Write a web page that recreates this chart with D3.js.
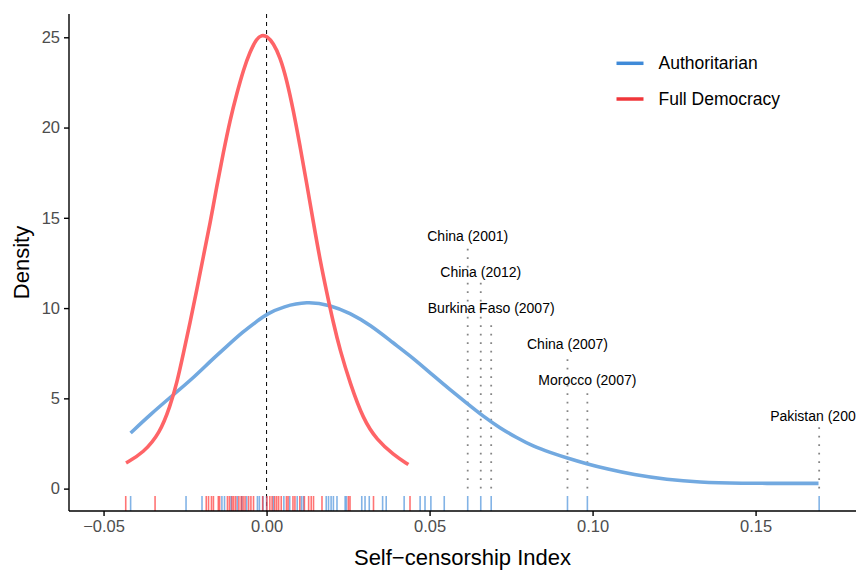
<!DOCTYPE html>
<html>
<head>
<meta charset="utf-8">
<script src="https://cdn.jsdelivr.net/npm/d3@7"></script>
<style>
  body { margin: 0; background: #fff; }
  text { font-family: "Liberation Sans", Arial, sans-serif; }
</style>
</head>
<body>
<div id="chart"></div>
<script>
// Density curves (x = index value, y = density)
const authCurveX = [-0.0417, -0.0357, -0.0286, -0.0225, -0.0173, -0.0122, -0.0071, -0.0030, 0.0001, 0.0052, 0.0123, 0.0195, 0.0256, 0.0317, 0.0389, 0.0450, 0.0512, 0.0563, 0.0614, 0.0665, 0.0716, 0.0767, 0.0818, 0.0870, 0.0921, 0.0982, 0.1044, 0.1125, 0.1228, 0.1330, 0.1432, 0.1693];
const authCurveY = [3.08, 4.10, 5.20, 6.13, 7.05, 7.88, 8.71, 9.26, 9.68, 10.09, 10.37, 10.18, 9.72, 9.08, 8.06, 7.23, 6.25, 5.48, 4.74, 4.00, 3.36, 2.82, 2.34, 2.00, 1.70, 1.37, 1.09, 0.77, 0.50, 0.35, 0.29, 0.29];

const demoCurveX = [-0.0431, -0.0378, -0.0327, -0.0296, -0.0275, -0.0255, -0.0235, -0.0214, -0.0194, -0.0173, -0.0153, -0.0133, -0.0112, -0.0091, -0.0071, -0.0051, -0.0030, -0.0015, 0.0001, 0.0021, 0.0041, 0.0062, 0.0082, 0.0103, 0.0123, 0.0144, 0.0164, 0.0185, 0.0205, 0.0225, 0.0256, 0.0297, 0.0338, 0.0389, 0.0435];
const demoCurveY = [1.42, 1.98, 3.08, 4.56, 5.85, 7.51, 9.17, 11.01, 12.86, 14.70, 16.73, 18.58, 20.42, 21.90, 23.19, 24.20, 24.94, 25.12, 25.07, 24.67, 23.92, 22.63, 20.97, 18.94, 16.92, 14.70, 12.67, 10.83, 9.17, 7.69, 5.85, 3.82, 2.71, 1.88, 1.33];

// Rug values (one per country-year)
const authRug = [-0.0417, -0.0247, -0.0198, -0.0137, -0.0129, -0.0109, -0.0090, -0.0076, -0.0061, -0.0028, -0.0022, -0.0011, 0.0000, 0.0021, 0.0053, 0.0071, 0.0094, 0.0107, 0.0113, 0.0183, 0.0190, 0.0198, 0.0205, 0.0216, 0.0241, 0.0245, 0.0292, 0.0302, 0.0315, 0.0356, 0.0367, 0.0422, 0.0471, 0.0486, 0.0504, 0.0545, 0.0617, 0.0657, 0.0689, 0.0923, 0.0984, 0.1695];
const demoRug = [-0.0432, -0.0342, -0.0185, -0.0178, -0.0169, -0.0163, -0.0148, -0.0144, -0.0120, -0.0114, -0.0106, -0.0101, -0.0095, -0.0085, -0.0078, -0.0072, -0.0066, -0.0055, -0.0048, -0.0040, -0.0012, 0.0001, 0.0010, 0.0017, 0.0025, 0.0031, 0.0037, 0.0045, 0.0061, 0.0066, 0.0081, 0.0087, 0.0102, 0.0116, 0.0129, 0.0137, 0.0144, 0.0170, 0.0251, 0.0256, 0.0328, 0.0440];

// Labelled outliers
const outlierNames = ["China (2001)", "China (2012)", "Burkina Faso (2007)", "China (2007)", "Morocco (2007)", "Pakistan (2007)"];
const outlierX = [0.0617, 0.0657, 0.0689, 0.0923, 0.0984, 0.1695];
const outlierLabelY = [14, 12, 10, 8, 6, 4];

const groups = ["Authoritarian", "Full Democracy"];
const xTicks = [-0.05, 0, 0.05, 0.10, 0.15];
const yTicks = [0, 5, 10, 15, 20, 25];

const totalWidth = 856, totalHeight = 572;
const margin = {top: 14, right: 0, bottom: 61, left: 69},
    width = totalWidth - margin.left - margin.right,
    height = totalHeight - margin.top - margin.bottom;

const svg = d3.select("#chart")
  .append("svg")
    .attr("width", totalWidth)
    .attr("height", totalHeight)
  .append("g")
    .attr("transform", "translate(" + margin.left + "," + margin.top + ")");

const x = d3.scaleLinear()
  .domain([-0.0606, 0.1808])
  .range([0, width]);

const y = d3.scaleLinear()
  .domain([-1.24, 26.29])
  .range([height, 0]);

const lineBlue = "#72a9e0", lineRed = "#fe6467";

// dashed reference line at zero
svg.append("line")
  .attr("x1", x(0)).attr("x2", x(0))
  .attr("y1", 0).attr("y2", height)
  .attr("stroke", "#000")
  .attr("stroke-width", 1)
  .attr("stroke-dasharray", "4,4");

// dotted segments for the outliers
svg.selectAll(".seg")
  .data(outlierX)
  .enter()
  .append("line")
    .attr("class", "seg")
    .attr("x1", d => x(d)).attr("x2", d => x(d))
    .attr("y1", y(0))
    .attr("y2", (d, i) => y(outlierLabelY[i] - 0.6))
    .attr("stroke", "#858585")
    .attr("stroke-width", 1.8)
    .attr("stroke-dasharray", "1.8,6.7");

svg.selectAll(".lab")
  .data(outlierNames)
  .enter()
  .append("text")
    .attr("class", "lab")
    .attr("x", (d, i) => x(outlierX[i]))
    .attr("y", (d, i) => y(outlierLabelY[i]))
    .attr("dy", "0.35em")
    .attr("text-anchor", "middle")
    .style("font-size", "14px")
    .style("fill", "#000")
    .text(d => d);

// density lines
const line = d3.line()
  .x(d => x(d[0]))
  .y(d => y(d[1]))
  .curve(d3.curveBasis);

svg.append("path")
  .datum(authCurveX.map((v, i) => [v, authCurveY[i]]))
  .attr("d", line)
  .attr("fill", "none")
  .attr("stroke", lineBlue)
  .attr("stroke-width", 3.6);

svg.append("path")
  .datum(demoCurveX.map((v, i) => [v, demoCurveY[i]]))
  .attr("d", line)
  .attr("fill", "none")
  .attr("stroke", lineRed)
  .attr("stroke-width", 3.6);

// rugs
const rugLen = 15;
svg.selectAll(".rugA")
  .data(authRug)
  .enter()
  .append("line")
    .attr("x1", d => x(d)).attr("x2", d => x(d))
    .attr("y1", height).attr("y2", height - rugLen)
    .attr("stroke", "#3f8ad8")
    .attr("stroke-opacity", 0.65)
    .attr("stroke-width", 1.6);

svg.selectAll(".rugD")
  .data(demoRug)
  .enter()
  .append("line")
    .attr("x1", d => x(d)).attr("x2", d => x(d))
    .attr("y1", height).attr("y2", height - rugLen)
    .attr("stroke", "#ff2a2a")
    .attr("stroke-opacity", 0.65)
    .attr("stroke-width", 1.6);

// axes
const xAxis = svg.append("g")
  .attr("transform", "translate(0," + height + ")")
  .call(d3.axisBottom(x).tickValues(xTicks).tickSize(5).tickPadding(4)
    .tickFormat(d => d3.format(".2f")(d).replace("-", "\u2212")));

const yAxis = svg.append("g")
  .call(d3.axisLeft(y).tickValues(yTicks).tickSize(5).tickPadding(4));

[xAxis, yAxis].forEach(g => {
  g.select(".domain").attr("stroke", "#000").attr("stroke-width", 1.4);
  g.selectAll(".tick line").attr("stroke", "#000").attr("stroke-width", 1.4);
  g.selectAll(".tick text")
    .style("font-size", "16.5px")
    .style("font-family", "Liberation Sans, Arial, sans-serif")
    .attr("fill", "#4d4d4d");
});
xAxis.select(".domain").attr("d", "M0,0H" + width);
yAxis.select(".domain").attr("d", "M0," + height + "V0");

// axis titles
svg.append("text")
  .attr("x", width / 2)
  .attr("y", height + 54)
  .attr("text-anchor", "middle")
  .style("font-size", "22px")
  .text("Self\u2212censorship Index");

svg.append("text")
  .attr("transform", "translate(" + (-40) + "," + (height / 2) + ") rotate(-90)")
  .attr("text-anchor", "middle")
  .style("font-size", "22px")
  .text("Density");

// legend
const legendColors = ["#3f8ad8", "#f0363a"];
const legend = svg.append("g")
  .attr("transform", "translate(" + (616.5 - margin.left) + "," + (63.3 - margin.top) + ")");

groups.forEach((g, i) => {
  legend.append("line")
    .attr("x1", 0).attr("x2", 27)
    .attr("y1", i * 35.7).attr("y2", i * 35.7)
    .attr("stroke", legendColors[i])
    .attr("stroke-width", 3.5);
  legend.append("text")
    .attr("x", 42)
    .attr("y", i * 35.7)
    .attr("dy", "0.35em")
    .style("font-size", "17.5px")
    .text(g);
});
</script>
</body>
</html>
